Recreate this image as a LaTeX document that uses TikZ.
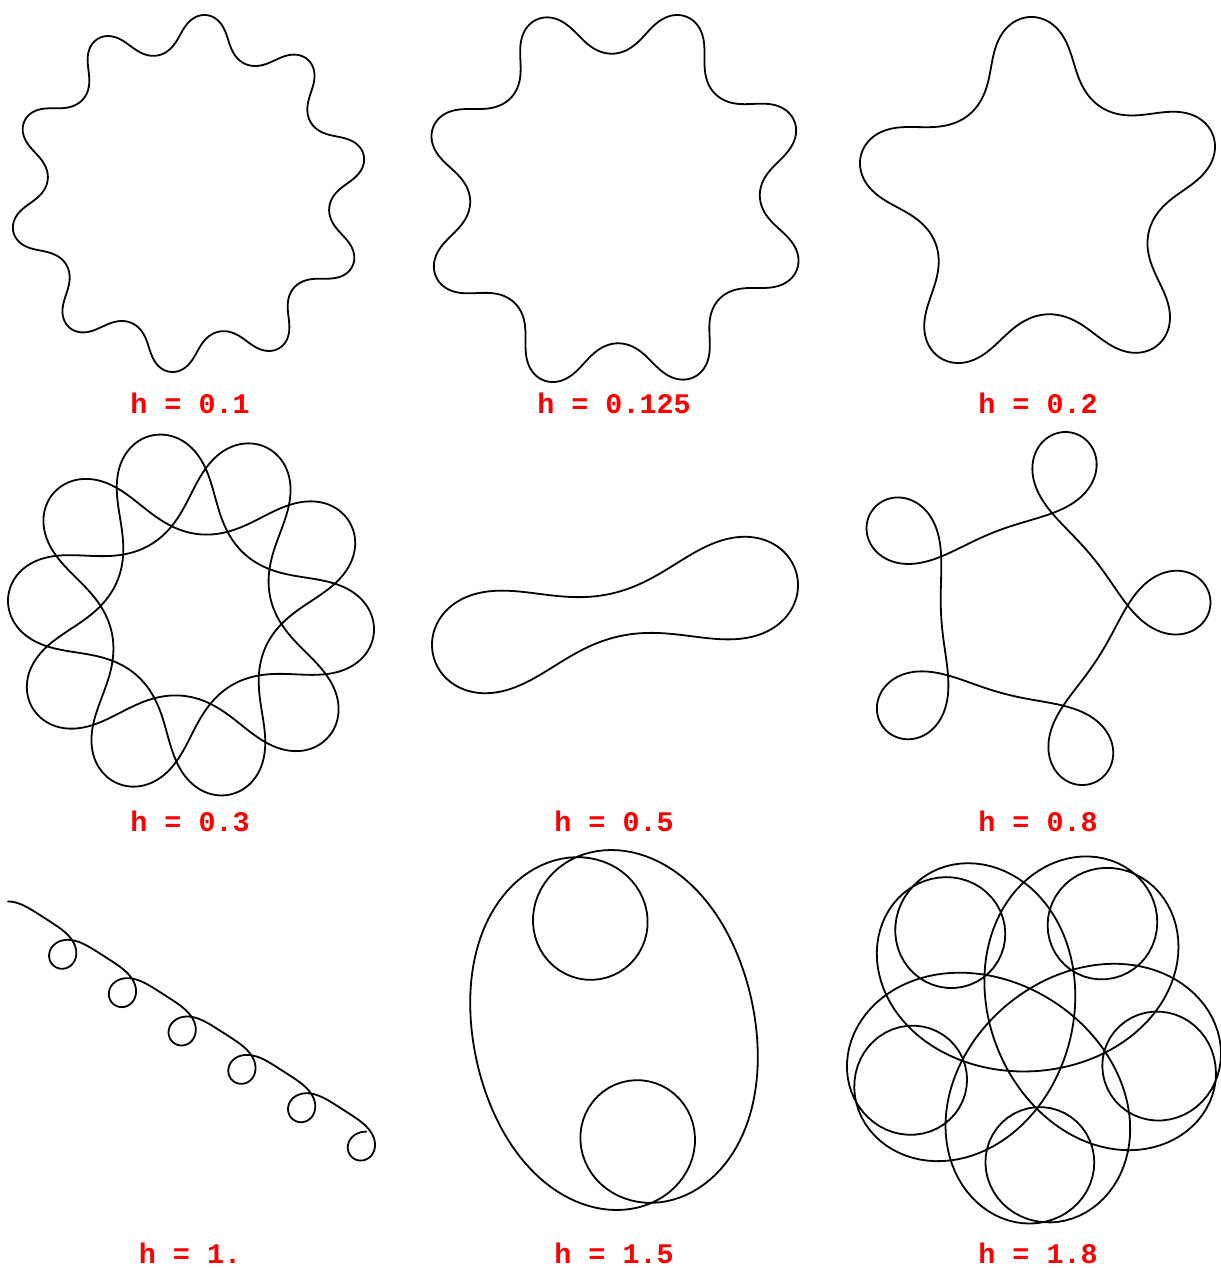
\documentclass[tikz,border=0pt]{standalone}
\usepackage{fontspec}
\setmonofont{Liberation Mono}
\tikzset{
  curvestyle/.style={line width=1.8bp, black, line join=round, line cap=round},
  labelstyle/.style={anchor=base, text=red, inner sep=0pt, text depth=0pt,
    font=\fontsize{28.5}{30}\selectfont\ttfamily\bfseries}
}
\ExplSyntaxOn
\fp_new:N \l_cv_x_fp
\fp_new:N \l_cv_y_fp
\fp_new:N \l_cv_t_fp
\fp_new:N \l_cv_ds_fp
\fp_new:N \l_cv_xa_fp
\fp_new:N \l_cv_xb_fp
\fp_new:N \l_cv_ya_fp
\fp_new:N \l_cv_yb_fp
\fp_new:N \l_cv_k_fp
\tl_new:N \l_cv_path_tl
\int_new:N \l_cv_n_int
\NewDocumentCommand \cvdraw { m m m m m }
 {
   \int_set:Nn \l_cv_n_int { \fp_eval:n { ceil( (#2) * pi / 0.05 ) } }
   \fp_set:Nn \l_cv_ds_fp { (#2) * pi / \l_cv_n_int }
   \fp_zero:N \l_cv_x_fp
   \fp_zero:N \l_cv_y_fp
   \fp_zero:N \l_cv_xa_fp
   \fp_zero:N \l_cv_xb_fp
   \fp_zero:N \l_cv_ya_fp
   \fp_zero:N \l_cv_yb_fp
   \tl_set:Nn \l_cv_path_tl { (0,0) }
   \int_step_inline:nn { \l_cv_n_int }
    {
      \fp_set:Nn \l_cv_t_fp { pi + 1 + (#1) * (##1 - 0.5) * \l_cv_ds_fp - cos( (##1 - 0.5) * \l_cv_ds_fp ) }
      \fp_add:Nn \l_cv_x_fp { \l_cv_ds_fp * cos(\l_cv_t_fp) }
      \fp_add:Nn \l_cv_y_fp { \l_cv_ds_fp * sin(\l_cv_t_fp) }
      \fp_set:Nn \l_cv_xa_fp { min(\l_cv_xa_fp, \l_cv_x_fp) }
      \fp_set:Nn \l_cv_xb_fp { max(\l_cv_xb_fp, \l_cv_x_fp) }
      \fp_set:Nn \l_cv_ya_fp { min(\l_cv_ya_fp, \l_cv_y_fp) }
      \fp_set:Nn \l_cv_yb_fp { max(\l_cv_yb_fp, \l_cv_y_fp) }
      \tl_put_right:Nx \l_cv_path_tl
        { -- ( \fp_eval:n { round(\l_cv_x_fp, 4) } , \fp_eval:n { round(\l_cv_y_fp, 4) } ) }
    }
   \fp_set:Nn \l_cv_k_fp { (#5) / max( \l_cv_xb_fp - \l_cv_xa_fp , \l_cv_yb_fp - \l_cv_ya_fp ) }
   \use:x
    {
      \exp_not:N \draw [ curvestyle , shift = { (#3 , -#4) } ,
        scale = \fp_eval:n { round(\l_cv_k_fp, 5) } ,
        shift = { ( \fp_eval:n { round(-(\l_cv_xa_fp + \l_cv_xb_fp)/2, 5) } ,
                    \fp_eval:n { round(-(\l_cv_ya_fp + \l_cv_yb_fp)/2, 5) } ) } ]
      \exp_not:V \l_cv_path_tl ;
    }
 }
\ExplSyntaxOff
\begin{document}
\begin{tikzpicture}[x=1bp,y=1bp]
\useasboundingbox[fill=white] (0,0) rectangle (1221,-1268);
% row 1
\cvdraw{0.1}{20}{188.5}{193.5}{357}
\cvdraw{0.125}{16}{615}{198.5}{367}
\cvdraw{0.2}{10}{1037.5}{190}{355}
% row 2
\cvdraw{0.3}{20}{191}{615}{366}
\cvdraw{0.5}{4}{615}{615}{366}
\cvdraw{0.8}{10}{1038.5}{608.5}{353}
% row 3
\cvdraw{1}{12}{191.5}{1031}{367}
\cvdraw{1.5}{4}{614}{1030}{360}
\cvdraw{1.8}{10}{1034}{1040}{374}
% labels
\node[labelstyle] (l1) at (190,-413) {h = 0.1};
\node[labelstyle] (l2) at (614,-413) {h = 0.125};
\node[labelstyle] (l3) at (1038,-413) {h = 0.2};
\node[labelstyle] (l4) at (190,-831.5) {h = 0.3};
\node[labelstyle] (l5) at (614,-831.5) {h = 0.5};
\node[labelstyle] (l6) at (1038,-831.5) {h = 0.8};
\node[labelstyle] (l7) at (190,-1263.5) {h = 1.};
\node[labelstyle] (l8) at (614,-1263.5) {h = 1.5};
\node[labelstyle] (l9) at (1038,-1263.5) {h = 1.8};
\end{tikzpicture}
\end{document}
